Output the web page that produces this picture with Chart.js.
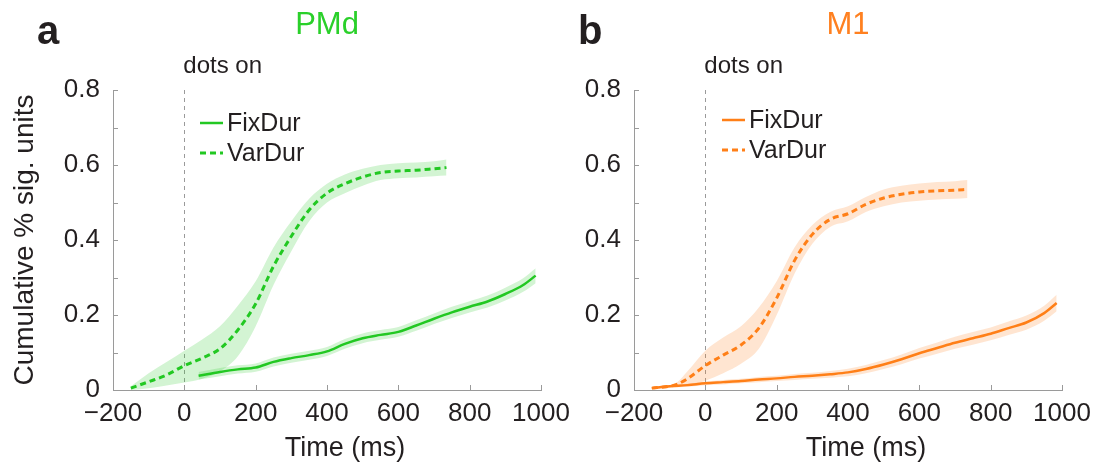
<!DOCTYPE html>
<html>
<head>
<meta charset="utf-8">
<script src="https://cdn.jsdelivr.net/npm/chart.js@4.4.1/dist/chart.umd.min.js"></script>
<style>
html,body{margin:0;padding:0;background:#fff;}
#wrap{position:relative;width:1106px;height:464px;overflow:hidden;background:#fff;}
.pane{position:absolute;top:0;height:464px;}
</style>
</head>
<body>
<div id="wrap">
  <div class="pane" style="left:0;width:600px;"><canvas id="c1" width="600" height="464"></canvas></div>
  <div class="pane" style="left:540px;width:566px;"><canvas id="c2" width="566" height="464"></canvas></div>
</div>
<script>
// ---------- data ----------
const xTickLabels = ['\u2212200', '0', '200', '400', '600', '800', '1000'];
const yTickLabels = ['0', '0.2', '0.4', '0.6', '0.8'];
const seriesNames = ['FixDur', 'VarDur'];
const panelTitles = ['PMd', 'M1'];
const panelLetters = ['a', 'b'];

// PMd (panel a)
const pmdVarX  = [-150,-100,-50,0,50,100,150,200,250,300,350,400,450,500,550,600,650,700,735];
const pmdVarY  = [0.005,0.022,0.040,0.065,0.085,0.110,0.160,0.230,0.330,0.410,0.480,0.525,0.550,0.568,0.580,0.584,0.586,0.590,0.593];
const pmdVarLo = [0.000,0.005,0.012,0.020,0.030,0.050,0.090,0.170,0.280,0.370,0.450,0.500,0.525,0.545,0.560,0.565,0.567,0.570,0.572];
const pmdVarHi = [0.010,0.045,0.075,0.105,0.135,0.170,0.225,0.290,0.380,0.450,0.510,0.550,0.575,0.590,0.600,0.605,0.607,0.610,0.615];

const pmdFixX  = [40,100,150,200,250,300,350,400,450,500,550,600,650,700,750,800,850,900,950,985];
const pmdFixY  = [0.038,0.048,0.055,0.060,0.075,0.085,0.093,0.103,0.123,0.138,0.147,0.155,0.172,0.190,0.207,0.222,0.236,0.256,0.280,0.305];
const pmdFixLo = [0.028,0.037,0.044,0.049,0.063,0.073,0.081,0.091,0.110,0.125,0.134,0.142,0.158,0.176,0.192,0.207,0.220,0.239,0.262,0.285];
const pmdFixHi = [0.048,0.059,0.066,0.071,0.087,0.097,0.105,0.115,0.136,0.151,0.160,0.168,0.186,0.204,0.222,0.237,0.252,0.273,0.298,0.325];

// M1 (panel b)
const m1VarX  = [-150,-100,-80,-50,0,50,100,150,200,250,300,350,400,450,500,550,600,650,700,735];
const m1VarY  = [0.005,0.010,0.015,0.030,0.065,0.093,0.120,0.165,0.245,0.345,0.415,0.455,0.470,0.495,0.512,0.522,0.528,0.531,0.533,0.535];
const m1VarLo = [0.003,0.007,0.010,0.012,0.025,0.045,0.070,0.110,0.200,0.310,0.390,0.435,0.450,0.475,0.490,0.500,0.505,0.508,0.510,0.512];
const m1VarHi = [0.007,0.013,0.020,0.050,0.105,0.140,0.170,0.220,0.290,0.380,0.440,0.475,0.490,0.515,0.535,0.545,0.551,0.555,0.557,0.560];

const m1FixX  = [-150,-100,-50,0,50,100,150,200,250,300,350,400,450,500,550,600,650,700,750,800,850,900,950,985];
const m1FixY  = [0.005,0.010,0.013,0.018,0.021,0.024,0.028,0.031,0.035,0.038,0.042,0.047,0.056,0.068,0.082,0.098,0.112,0.126,0.138,0.150,0.165,0.180,0.205,0.232];
const m1FixLo = [0.003,0.007,0.009,0.013,0.015,0.018,0.021,0.024,0.027,0.030,0.033,0.037,0.045,0.056,0.069,0.084,0.097,0.110,0.121,0.133,0.147,0.161,0.185,0.210];
const m1FixHi = [0.007,0.013,0.017,0.023,0.027,0.030,0.035,0.038,0.043,0.046,0.051,0.057,0.067,0.080,0.095,0.112,0.127,0.142,0.155,0.167,0.183,0.199,0.225,0.254];

// ---------- styling ----------
const FONT = '"Liberation Sans", Arial, Helvetica, sans-serif';
const TEXT = '#231f20';
const AXIS = '#9a9a9a';
Chart.defaults.font.family = FONT;
Chart.defaults.color = TEXT;

function pts(xs, ys) { return xs.map((x, i) => ({x: x, y: ys[i]})); }

function fmtX(v) {
  const idx = Math.round((v + 200) / 200);
  return xTickLabels[idx] !== undefined ? xTickLabels[idx] : '';
}
function fmtY(v) {
  const k = Math.round(v * 10);
  return k % 2 === 0 ? (yTickLabels[k / 2] || '') : '';
}

const decorPlugin = {
  id: 'decor',
  beforeDatasetsDraw(chart) {
    const {ctx, chartArea: a, scales: {x, y}} = chart;
    ctx.save();
    ctx.strokeStyle = AXIS;
    ctx.lineWidth = 1;
    // inward tick marks
    x.ticks.forEach(t => {
      const px = Math.round(x.getPixelForValue(t.value)) + 0.5;
      ctx.beginPath(); ctx.moveTo(px, a.bottom); ctx.lineTo(px, a.bottom - 5); ctx.stroke();
    });
    y.ticks.forEach(t => {
      const py = Math.round(y.getPixelForValue(t.value)) + 0.5;
      ctx.beginPath(); ctx.moveTo(a.left, py); ctx.lineTo(a.left + 5, py); ctx.stroke();
    });
    // "dots on" marker line at t = 0
    const z = Math.round(x.getPixelForValue(0)) + 0.5;
    ctx.setLineDash([4, 4]);
    ctx.beginPath(); ctx.moveTo(z, a.top); ctx.lineTo(z, a.bottom); ctx.stroke();
    ctx.restore();
  },
  afterDraw(chart, args, o) {
    const {ctx, chartArea: a, scales: {x}} = chart;
    ctx.save();
    ctx.fillStyle = TEXT;
    ctx.textBaseline = 'alphabetic';
    // panel letter
    ctx.font = 'bold 40px ' + FONT;
    ctx.textAlign = 'left';
    ctx.fillText(o.letter, o.letterX, 44);
    // panel title
    ctx.font = '31px ' + FONT;
    ctx.textAlign = 'center';
    ctx.fillStyle = o.color;
    ctx.fillText(o.title, (a.left + a.right) / 2, 34);
    // dots on
    ctx.fillStyle = TEXT;
    ctx.font = '24px ' + FONT;
    ctx.textAlign = 'left';
    ctx.fillText('dots on', x.getPixelForValue(0) - 1, 73);
    // x axis title
    ctx.font = '27px ' + FONT;
    ctx.textAlign = 'center';
    ctx.fillText('Time (ms)', (a.left + a.right) / 2 + 18, 456);
    // legend
    ctx.font = '25px ' + FONT;
    ctx.textAlign = 'left';
    ctx.textBaseline = 'middle';
    let row = 0;
    chart.data.datasets.forEach(ds => {
      if (!ds.inLegend) return;
      const yy = a.top + o.legendTop + row * o.legendGap;
      const x0 = a.left + o.legendLeft;
      ctx.strokeStyle = ds.borderColor;
      ctx.lineWidth = ds.borderWidth;
      ctx.setLineDash(ds.borderDash || []);
      ctx.beginPath(); ctx.moveTo(x0, yy); ctx.lineTo(x0 + 23, yy); ctx.stroke();
      ctx.setLineDash([]);
      ctx.fillStyle = TEXT;
      ctx.fillText(ds.label, x0 + 27, yy + 1);
      row++;
    });
    ctx.restore();
  }
};

function makePanel(id, cfg) {
  const line = cfg.color, band = cfg.band;
  const datasets = [
    {label: seriesNames[0], data: pts(cfg.fixX, cfg.fixY), borderColor: line, borderWidth: 2.5,
     pointRadius: 0, fill: false, order: 1, inLegend: true, cubicInterpolationMode: 'monotone'},
    {label: seriesNames[1], data: pts(cfg.varX, cfg.varY), borderColor: line, borderWidth: 3, borderDash: [6, 4],
     pointRadius: 0, fill: false, order: 1, inLegend: true, cubicInterpolationMode: 'monotone'},
    {label: 'FixDur upper', data: pts(cfg.fixX, cfg.fixHi), borderColor: 'transparent', borderWidth: 0,
     backgroundColor: band, pointRadius: 0, fill: '+1', order: 3, cubicInterpolationMode: 'monotone'},
    {label: 'FixDur lower', data: pts(cfg.fixX, cfg.fixLo), borderColor: 'transparent', borderWidth: 0,
     pointRadius: 0, fill: false, order: 3, cubicInterpolationMode: 'monotone'},
    {label: 'VarDur upper', data: pts(cfg.varX, cfg.varHi), borderColor: 'transparent', borderWidth: 0,
     backgroundColor: band, pointRadius: 0, fill: '+1', order: 2, cubicInterpolationMode: 'monotone'},
    {label: 'VarDur lower', data: pts(cfg.varX, cfg.varLo), borderColor: 'transparent', borderWidth: 0,
     pointRadius: 0, fill: false, order: 2, cubicInterpolationMode: 'monotone'}
  ];
  return new Chart(document.getElementById(id), {
    type: 'line',
    data: {datasets: datasets},
    plugins: [decorPlugin],
    options: {
      responsive: false,
      animation: false,
      events: [],
      layout: {padding: {left: 0, top: 90, right: cfg.padRight, bottom: 0}, autoPadding: false},
      plugins: {
        legend: {display: false},
        tooltip: {enabled: false},
        title: {display: false},
        decor: {letter: cfg.letter, letterX: cfg.letterX, title: cfg.title, color: cfg.titleColor,
                legendLeft: cfg.legendLeft, legendTop: cfg.legendTop, legendGap: cfg.legendGap}
      },
      scales: {
        x: {
          type: 'linear', min: -200, max: 1000,
          grid: {display: false},
          border: {display: true, color: AXIS, width: 1},
          ticks: {stepSize: 200, autoSkip: false, maxRotation: 0, padding: 0,
                  font: {size: 26}, color: TEXT, callback: fmtX},
          afterFit(s) { s.height = 74; s.paddingLeft = 0; s.paddingRight = 0; }
        },
        y: {
          type: 'linear', min: 0, max: 0.8,
          grid: {display: false},
          border: {display: true, color: AXIS, width: 1},
          ticks: {stepSize: 0.1, autoSkip: false, padding: 5,
                  font: {size: 26}, color: TEXT, callback: fmtY},
          title: {display: cfg.yTitle, text: 'Cumulative % sig. units', color: TEXT,
                  font: {size: 28}, padding: {top: 8, bottom: 0}},
          afterFit(s) { s.width = cfg.yWidth; s.paddingTop = 0; s.paddingBottom = 0; }
        }
      }
    }
  });
}

makePanel('c1', {
  color: '#22c822', band: 'rgba(34,200,34,0.2)', titleColor: '#2ad02a',
  title: panelTitles[0], letter: panelLetters[0], letterX: 37,
  fixX: pmdFixX, fixY: pmdFixY, fixLo: pmdFixLo, fixHi: pmdFixHi,
  varX: pmdVarX, varY: pmdVarY, varLo: pmdVarLo, varHi: pmdVarHi,
  yWidth: 113, padRight: 59, yTitle: true,
  legendLeft: 87, legendTop: 33, legendGap: 30
});
makePanel('c2', {
  color: '#ff7f17', band: 'rgba(255,127,23,0.2)', titleColor: '#ff8020',
  title: panelTitles[1], letter: panelLetters[1], letterX: 38,
  fixX: m1FixX, fixY: m1FixY, fixLo: m1FixLo, fixHi: m1FixHi,
  varX: m1VarX, varY: m1VarY, varLo: m1VarLo, varHi: m1VarHi,
  yWidth: 94, padRight: 44, yTitle: false,
  legendLeft: 88, legendTop: 30, legendGap: 30
});
</script>
</body>
</html>
